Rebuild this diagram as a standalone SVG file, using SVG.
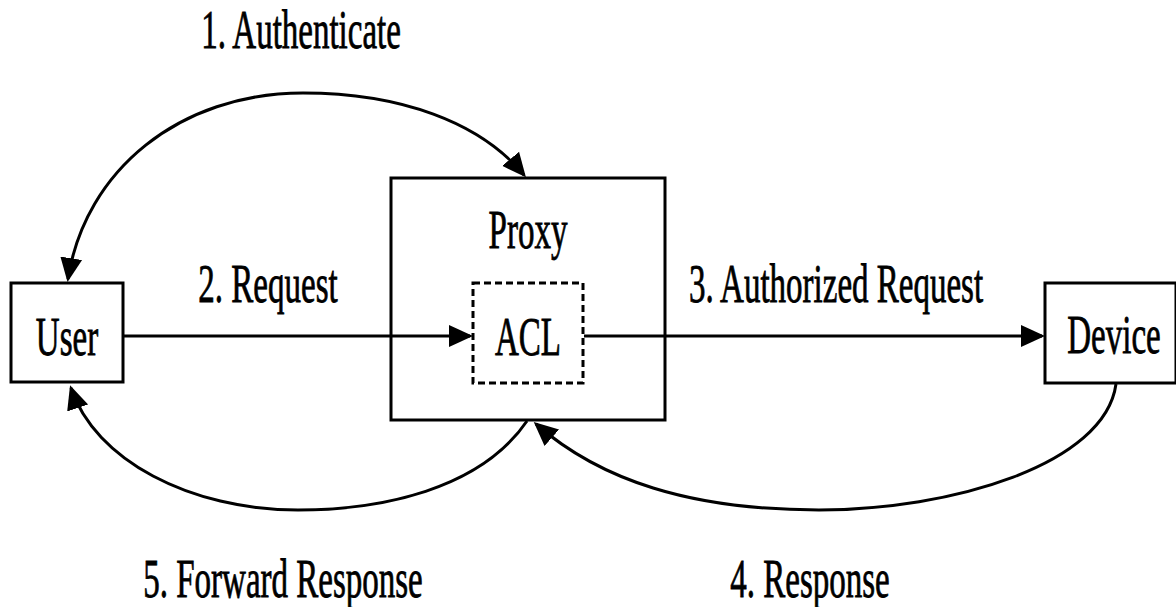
<svg xmlns="http://www.w3.org/2000/svg" width="1176" height="607" viewBox="0 0 1176 607">
  <style>
    .box { fill: #fff; stroke: #000; stroke-width: 3; }
    .dash { fill: #fff; stroke: #000; stroke-width: 3; stroke-dasharray: 7 4; }
    .wire { fill: none; stroke: #000; stroke-width: 3; }
    .lbl { font-family: "Liberation Serif", "Times New Roman", serif; font-size: 33px; fill: #000; stroke: #000; stroke-width: 0.5; text-anchor: middle; }
  </style>
  <defs>
    <marker id="ah" markerUnits="userSpaceOnUse" markerWidth="28" markerHeight="26" viewBox="0 0 28 26" refX="21" refY="13" orient="auto-start-reverse">
      <path d="M0,2 L24,13 L0,24 z" fill="#000"/>
    </marker>
  </defs>
  <rect width="1176" height="607" fill="#fff"/>

  <g id="user">
    <rect class="box" x="11" y="283" width="112" height="99"/>
    <text class="lbl" transform="translate(67,355) scale(1,1.65)">User</text>
  </g>

  <g id="proxy">
    <rect class="box" x="391" y="178" width="274" height="242"/>
    <text class="lbl" transform="translate(528,248) scale(1,1.65)">Proxy</text>
  </g>

  <g id="acl">
    <rect class="dash" x="473" y="283" width="110" height="100"/>
    <text class="lbl" transform="translate(528,355) scale(1,1.65)">ACL</text>
  </g>

  <g id="device">
    <rect class="box" x="1045" y="283" width="131" height="100"/>
    <text class="lbl" transform="translate(1114,353) scale(1,1.65)">Device</text>
  </g>

  <!-- connectors, drawn over the boxes so the request lines cross the proxy -->
  <g id="connectors">
    <!-- 1. Authenticate: User <-> Proxy -->
    <path class="wire" d="M68,279 C85,170 180,93 303,93 C400,93 480,122 524,175" marker-start="url(#ah)" marker-end="url(#ah)"/>
    <!-- 2. Request: User -> ACL -->
    <path class="wire" d="M123,336 L470,336" marker-end="url(#ah)"/>
    <!-- 3. Authorized Request: ACL -> Device -->
    <path class="wire" d="M584,336 L1042,336" marker-end="url(#ah)"/>
    <!-- 4. Response: Device -> Proxy -->
    <path class="wire" d="M1116,384 C1105,465 950,510 819,510 C690,510 600,480 536,424" marker-end="url(#ah)"/>
    <!-- 5. Forward Response: Proxy -> User -->
    <path class="wire" d="M527,421 C480,490 380,510 298,510 C190,510 95,460 71,388" marker-end="url(#ah)"/>
  </g>

  <!-- connector labels -->
  <g id="labels">
    <text class="lbl" transform="translate(301,48) scale(1,1.65)">1. Authenticate</text>
    <text class="lbl" transform="translate(268,302) scale(1,1.65)">2. Request</text>
    <text class="lbl" transform="translate(836,302) scale(1,1.65)">3. Authorized Request</text>
    <text class="lbl" transform="translate(810,597) scale(1,1.65)">4. Response</text>
    <text class="lbl" transform="translate(283,597) scale(1,1.65)">5. Forward Response</text>
  </g>
</svg>
